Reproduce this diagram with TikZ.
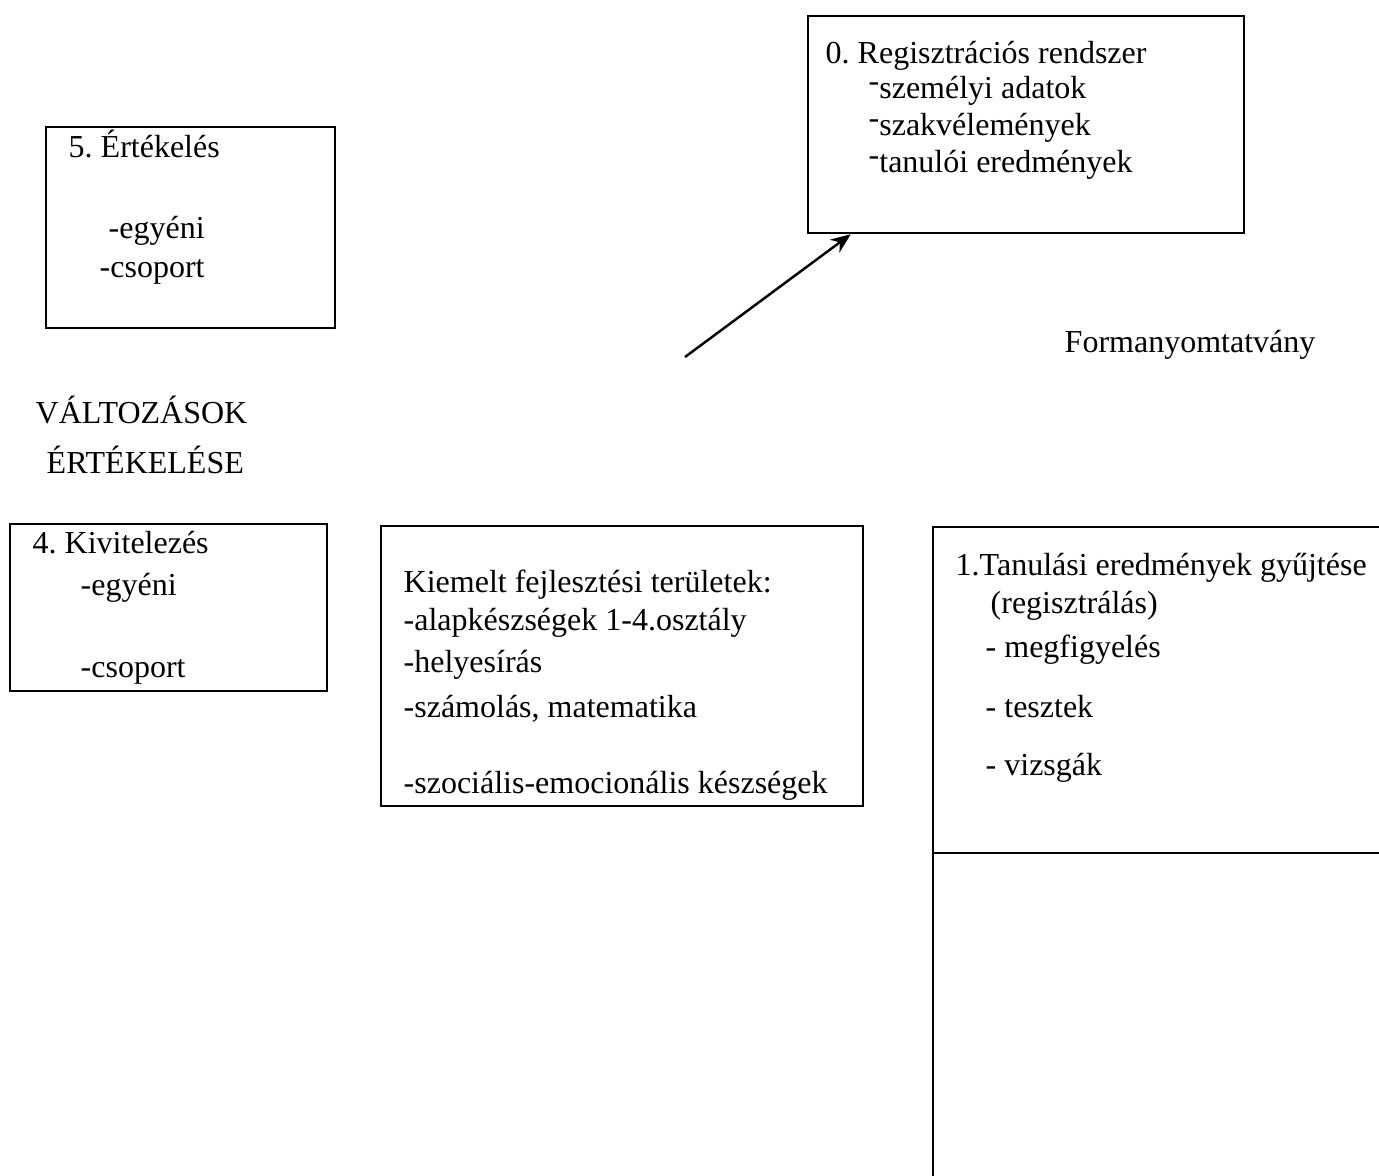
\documentclass[tikz,border=0pt]{standalone}
\usepackage{fontspec}
\setmainfont{Liberation Serif}
\usetikzlibrary{arrows.meta}
\newcommand\updash{\raisebox{0.2em}{-}}
\frenchspacing

\begin{document}
\begin{tikzpicture}[x=0.01cm, y=-0.01cm,
    box/.style={draw, line width=0.6pt, rectangle, anchor=north west, inner sep=0pt},
    txt/.style={anchor=base west, inner sep=0pt, font=\fontsize{9.1pt}{11pt}\selectfont}]
    \useasboundingbox (0,0) rectangle (1379,1175);
    \clip (0,0) rectangle (1379,1175);

            % 0. regisztracio
            \node[box, minimum width=4.36cm, minimum height=2.17cm] (reg) at (807,15) {};
                \node[txt] (reg0) at (825,63) {0. Regisztrációs rendszer};
                \node[txt] (reg1) at (868,98) {\updash személyi adatok};
                \node[txt] (reg2) at (868,135) {\updash szakvélemények};
                \node[txt] (reg3) at (868,172) {\updash tanulói eredmények};

            % 5. ertekeles
            \node[box, minimum width=2.89cm, minimum height=2.01cm] (ert) at (45,126) {};
                \node[txt] (ert0) at (68,157) {5. Értékelés};
                \node[txt] (ert1) at (108,238) {-egyéni};
                \node[txt] (ert2) at (99,277) {-csoport};

            \node[txt] (form) at (1064,352) {Formanyomtatvány};
            \node[txt] (valt) at (35,423) {VÁLTOZÁSOK};
            \node[txt] (ertk) at (46,473) {ÉRTÉKELÉSE};

            % 4. kivitelezes
            \node[box, minimum width=3.17cm, minimum height=1.67cm] (kiv) at (9,523) {};
                \node[txt] (kiv0) at (32,553) {4. Kivitelezés};
                \node[txt] (kiv1) at (80,595) {-egyéni};
                \node[txt] (kiv2) at (80,677) {-csoport};

            % kiemelt teruletek
            \node[box, minimum width=4.82cm, minimum height=2.80cm] (kie) at (380,525) {};
                \node[txt] (kie0) at (403,592) {Kiemelt fejlesztési területek:};
                \node[txt] (kie1) at (403,630) {-alapkészségek 1-4.osztály};
                \node[txt] (kie2) at (403,672) {-helyesírás};
                \node[txt] (kie3) at (403,717) {-számolás, matematika};
                \node[txt] (kie4) at (403,793) {-szociális-emocionális készségek};

            % 1. tanulasi eredmenyek
            \node[box, minimum width=4.80cm, minimum height=6.70cm] (tan) at (932,526) {};
            \draw[line width=0.6pt] ([yshift=-3.27cm]tan.north west) -- ([yshift=-3.27cm]tan.north east);
                \node[txt] (tan0) at (955,575) {1.Tanulási eredmények gyűjtése};
                \node[txt] (tan1) at (990,613) {(regisztrálás)};
                \node[txt] (tan2) at (985,657) {- megfigyelés};
                \node[txt] (tan3) at (985,717) {- tesztek};
                \node[txt] (tan4) at (985,775) {- vizsgák};

            \coordinate (start) at (685,357);
            \draw[line width=0.7pt, -{Stealth[length=0.2cm, width=0.16cm]}] (start) to (reg.212);

\end{tikzpicture}
\end{document}
